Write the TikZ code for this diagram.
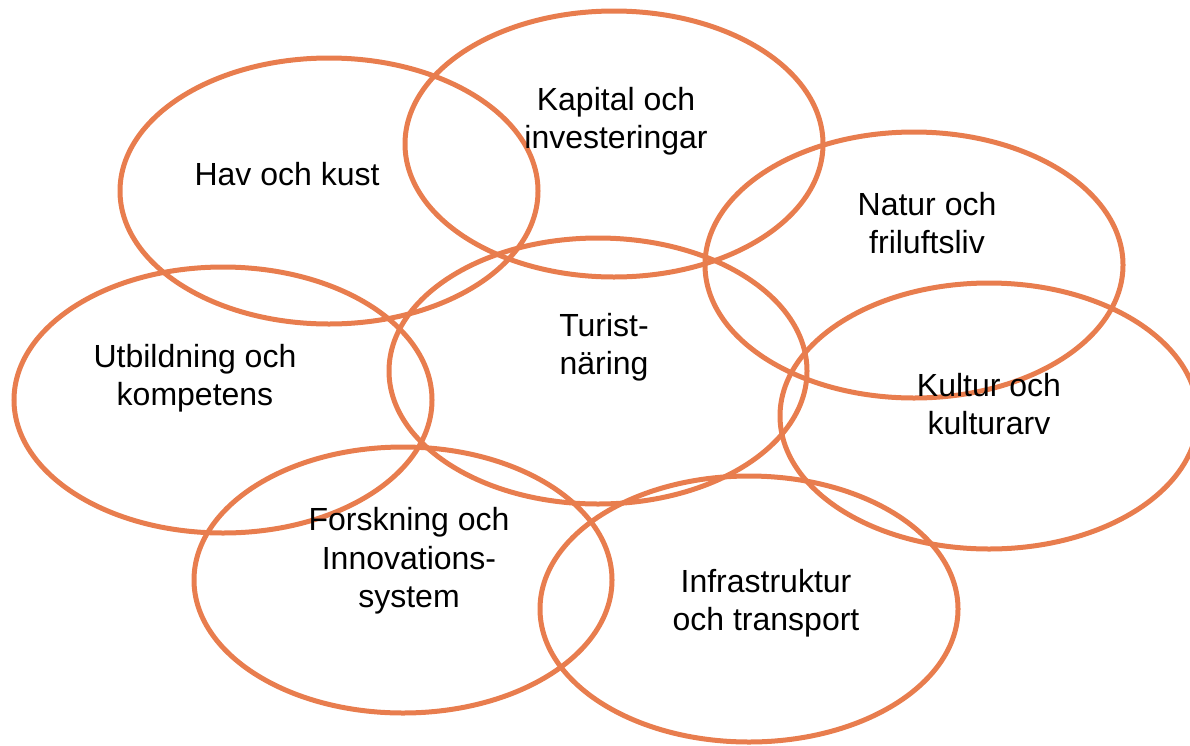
\documentclass[tikz,border=0pt]{standalone}
\usepackage{fontspec}
\setmainfont{Liberation Sans}
\usepackage{xcolor}
\definecolor{cRing}{HTML}{E87D4E}
\usepackage{tikz}
\usetikzlibrary{shapes.geometric}
\tikzset{
  node-ring/.style={draw=cRing,line width=5pt,ellipse,inner sep=0pt,
    minimum width=418pt,minimum height=266pt},
  node-label/.style={align=center,inner sep=0pt,
    font=\fontsize{32}{38.5}\selectfont},
}
\begin{document}
\begin{tikzpicture}[x=1pt,y=-1pt]
  \useasboundingbox (0,0) rectangle (1190,745);
  % ringarna
  \node[node-ring] (hav) at (329,191) {};
  \node[node-ring] (kapital) at (614,144) {};
  \node[node-ring] (natur) at (914,265) {};
  \node[node-ring] (turism) at (598,371) {};
  \node[node-ring] (utbildning) at (223,400) {};
  \node[node-ring] (kultur) at (989,416) {};
  \node[node-ring] (forskning) at (403,580) {};
  \node[node-ring] (infra) at (749,609) {};
  % texterna
  \node[node-label] (hav-txt) at (287,174) {Hav och kust};
  \node[node-label] (kapital-txt) at (616,121) {Kapital och\\investeringar};
  \node[node-label] (natur-txt) at (927,223) {Natur och\\friluftsliv};
  \node[node-label] (turism-txt) at (604,347) {Turist-\\näring};
  \node[node-label] (utbildning-txt) at (195,378) {Utbildning och\\kompetens};
  \node[node-label] (kultur-txt) at (989,404) {Kultur och\\kulturarv};
  \node[node-label] (forskning-txt) at (409,561) {Forskning och\\Innovations-\\system};
  \node[node-label] (infra-txt) at (766,603) {Infrastruktur\\och transport};
\end{tikzpicture}
\end{document}
